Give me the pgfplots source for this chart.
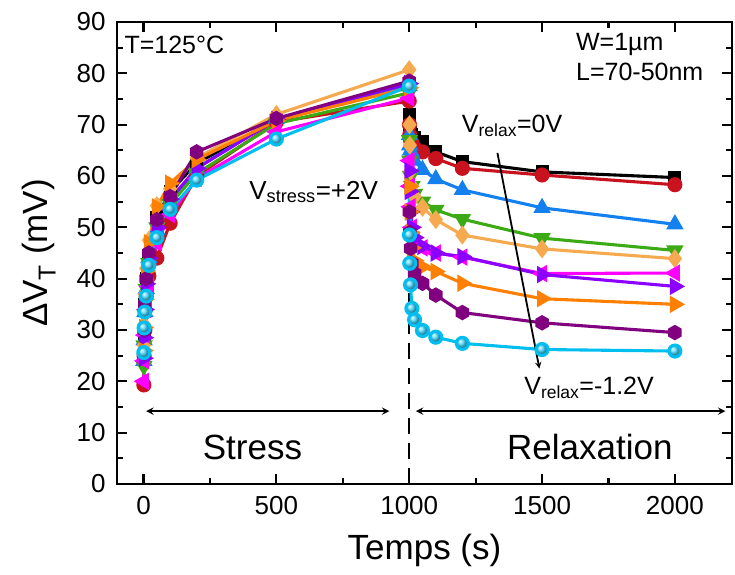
\documentclass[border=0pt]{standalone}
\usepackage{fontspec}
\setmainfont{Liberation Sans}
\usepackage{pgfplots}
\pgfplotsset{compat=1.18}
\usepackage{pgfplotstable}

\definecolor{cblack}{RGB}{0,0,0}
\definecolor{cred}{RGB}{200,18,30}
\definecolor{cblue}{RGB}{20,128,240}
\definecolor{cgreen}{RGB}{60,170,20}
\definecolor{clorange}{RGB}{245,170,80}
\definecolor{cmagenta}{RGB}{255,0,255}
\definecolor{cviolet}{RGB}{140,0,255}
\definecolor{corange}{RGB}{255,128,0}
\definecolor{cpurple}{RGB}{128,0,128}
\definecolor{ccyan}{RGB}{0,190,240}
\definecolor{cball}{RGB}{70,215,255}

\pgfdeclareplotmark{hexagon*}{%
  \pgfpathmoveto{\pgfqpointpolar{90}{\pgfplotmarksize}}%
  \pgfpathlineto{\pgfqpointpolar{150}{\pgfplotmarksize}}%
  \pgfpathlineto{\pgfqpointpolar{210}{\pgfplotmarksize}}%
  \pgfpathlineto{\pgfqpointpolar{270}{\pgfplotmarksize}}%
  \pgfpathlineto{\pgfqpointpolar{330}{\pgfplotmarksize}}%
  \pgfpathlineto{\pgfqpointpolar{30}{\pgfplotmarksize}}%
  \pgfpathclose\pgfusepathqfillstroke}

% t  v
\pgfplotstableread{
t v
1 25
2 29
5 35
10 40
20 44.5
50 52
100 57
200 62.5
500 71
1000 78
1001 72
1002 70
1005 69
1010 68
1020 67.5
1050 66.7
1100 64.7
1200 62.8
1500 60.8
2000 59.7
}\tblack
\pgfplotstableread{
t v
1 19.3
2 25
5 30
10 36.5
20 40.5
50 44
100 50.8
200 60
500 70.5
1000 74.6
1001 70
1002 68
1005 67
1010 66.5
1020 65.5
1050 64.7
1100 63.4
1200 61.5
1500 60.2
2000 58.3
}\tred
\pgfplotstableread{
t v
1 24
2 28
5 33.5
10 38
20 44
50 49.5
100 55
200 61.5
500 71.2
1000 77.5
1001 68
1002 66
1005 65
1010 64.4
1020 63
1050 61.2
1100 59.4
1200 57.3
1500 53.8
2000 50.6
}\tblue
\pgfplotstableread{
t v
1 23
2 27
5 33
10 38
20 43
50 50
100 54.5
200 60.5
500 70.2
1000 76.2
1001 67
1002 63
1005 60
1010 58
1020 56.5
1050 55
1100 53.4
1200 51.6
1500 47.9
2000 45.5
}\tgreen
\pgfplotstableread{
t v
1 27
2 31
5 37
10 42
20 47.5
50 54.2
100 57.5
200 63.5
500 72
1000 80.7
1001 70
1002 66
1005 61
1010 58
1020 56
1050 53.9
1100 51.5
1200 48.5
1500 45.8
2000 43.9
}\tlorange
\pgfplotstableread{
t v
1 20
2 24
5 29
10 34
20 38.5
50 47
100 52.5
200 59.5
500 68.6
1000 75.2
1001 63
1002 58
1005 54
1010 50
1020 47.5
1050 46
1100 45
1200 44.2
1500 41.0
2000 41.1
}\tmagenta
\pgfplotstableread{
t v
1 24.5
2 28.5
5 34
10 39
20 44
50 50
100 55.5
200 61.5
500 71
1000 78
1001 61
1002 57
1005 53
1010 50
1020 48
1050 46.3
1100 45
1200 44.3
1500 40.8
2000 38.5
}\tviolet
\pgfplotstableread{
t v
1 26
2 30.5
5 36
10 41.5
20 47
50 54
100 58.6
200 63.2
500 70.8
1000 77.2
1001 58
1002 53
1005 49
1010 46
1020 43.5
1050 42.3
1100 41.4
1200 39.1
1500 36.1
2000 35.0
}\torange
\pgfplotstableread{
t v
1 25.5
2 30
5 35
10 40
20 45
50 51.5
100 56
200 64.7
500 71.2
1000 78.5
1001 53
1002 49
1005 45.9
1010 43
1020 41.0
1050 39.1
1100 36.8
1200 33.4
1500 31.4
2000 29.5
}\tpurple
\pgfplotstableread{
t v
1 25.6
2 30.4
5 33.5
10 36.6
20 42.6
50 48
100 53.5
200 59.2
500 67.2
1000 77.5
1001 48.5
1002 43.0
1005 38.8
1010 34.2
1020 32.0
1050 29.9
1100 28.6
1200 27.4
1500 26.2
2000 25.9
}\tcyan

\begin{document}
\begin{tikzpicture}[x=1pt,y=1pt]
\path[use as bounding box] (-117,-90) rectangle (618,484);
\begin{axis}[
  at={(0,0)}, anchor=south west,
  scale only axis, width=615pt, height=462pt,
  xmin=-100, xmax=2215, ymin=0, ymax=90,
  xtick={0,500,1000,1500,2000},
  minor x tick num=1,
  ytick={0,10,...,90},
  minor y tick num=1,
  tick align=inside,
  major tick length=10pt, minor tick length=6pt,
  every tick/.style={line width=2.2pt, black},
  axis line style={line width=2.6pt},
  ticklabel style={font=\fontsize{26}{26}\selectfont},
  /pgf/number format/assume math mode=true,
  /pgf/number format/set thousands separator={},
  xticklabel style={yshift=-9pt},
  yticklabel style={xshift=-8pt},
  xlabel={Temps (s)},
  ylabel={ΔV\textsubscript{T} (mV)},
  label style={font=\fontsize{35}{35}\selectfont},
  xlabel style={yshift=-12pt},
  ylabel style={yshift=14pt},
  clip=false,
  every axis plot/.append style={line width=3.1pt},
  mark size=5.5pt,
]
\draw[black, line width=2.4pt, dash pattern=on 16pt off 9pt] (axis cs:1000,0) -- (axis cs:1000,78);
\addplot[cblack, mark=square*, mark size=5pt] table[x=t,y=v] {\tblack};
\addplot[cred, mark=*, mark size=6pt] table[x=t,y=v] {\tred};
\addplot[cblue, mark=triangle*, mark size=7pt] table[x=t,y=v] {\tblue};
\addplot[cgreen, mark=triangle*, mark size=7pt, mark options={rotate=180}] table[x=t,y=v] {\tgreen};
\addplot[clorange, mark=diamond*, mark size=7pt] table[x=t,y=v] {\tlorange};
\addplot[cmagenta, mark=triangle*, mark size=7pt, mark options={rotate=90}] table[x=t,y=v] {\tmagenta};
\addplot[cviolet, mark=triangle*, mark size=7pt, mark options={rotate=-90}] table[x=t,y=v] {\tviolet};
\addplot[corange, mark=triangle*, mark size=7pt, mark options={rotate=-90}] table[x=t,y=v] {\torange};
\addplot[cpurple, mark=hexagon*, mark size=6pt] table[x=t,y=v] {\tpurple};
\addplot[ccyan, mark=ball, mark size=6pt, mark options={ball color=cball}] table[x=t,y=v] {\tcyan};

% arrows
\draw[<->, >=stealth, line width=2.2pt] (axis cs:10,14.2) -- (axis cs:925,14.2);
\draw[<->, >=stealth, line width=2.2pt] (axis cs:1025,14.2) -- (axis cs:2190,14.2);
\node[font=\fontsize{35}{35}\selectfont] at (axis cs:410,7.2) {Stress};
\node[font=\fontsize{35}{35}\selectfont] at (axis cs:1680,7.2) {Relaxation};
\node[font=\fontsize{25}{25}\selectfont, anchor=west] at (axis cs:-85,85.5) {T=125°C};
\node[font=\fontsize{25}{30}\selectfont, anchor=north west, align=left] at (axis cs:1615,88.5) {W=1µm\\L=70-50nm};
\node[font=\fontsize{26}{26}\selectfont, anchor=base west] at (axis cs:385,55.5) {V\textsubscript{stress}=+2V};
\node[font=\fontsize{25}{25}\selectfont, anchor=base west] at (axis cs:1185,68.5) {V\textsubscript{relax}=0V};
\node[font=\fontsize{25}{25}\selectfont, anchor=base west] at (axis cs:1420,17.5) {V\textsubscript{relax}=-1.2V};
\draw[->, >=stealth, line width=1.8pt] (axis cs:1332,64.5) -- (axis cs:1490,22.5);
\end{axis}
\end{tikzpicture}
\end{document}
